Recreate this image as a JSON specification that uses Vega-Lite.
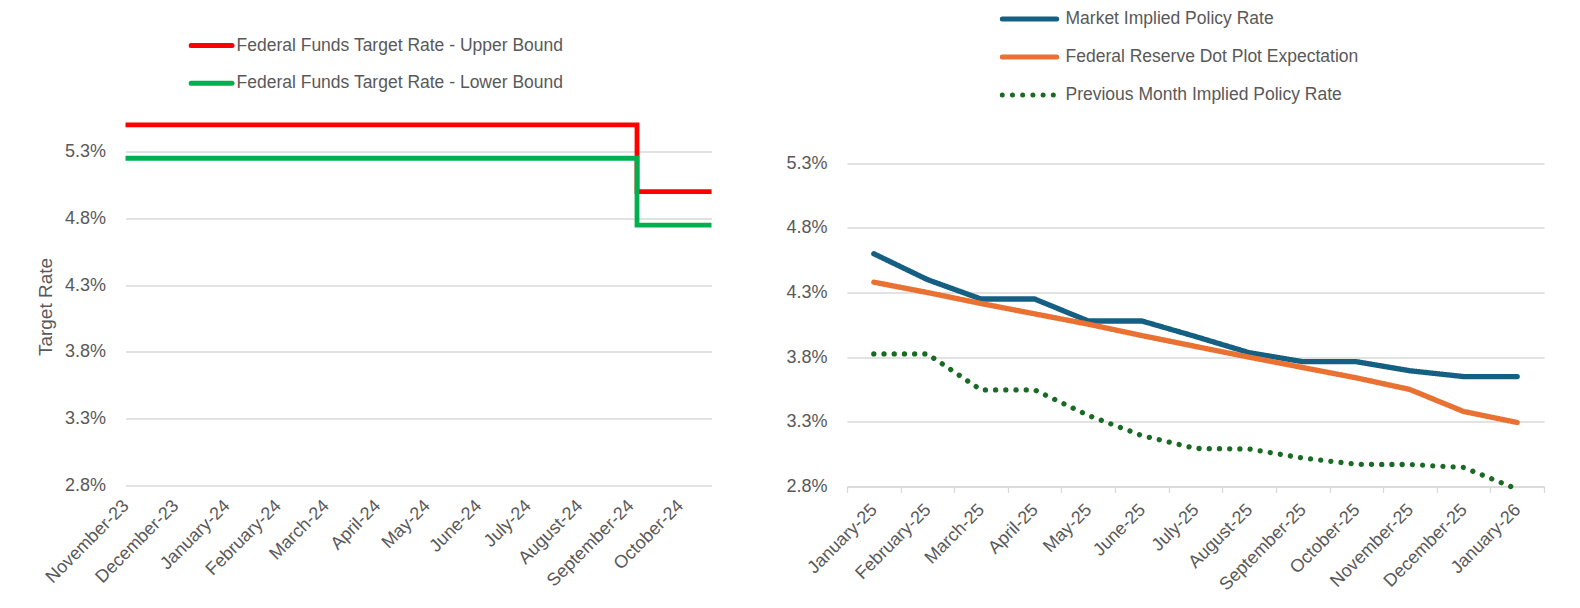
{
  "$schema": "https://vega.github.io/schema/vega-lite/v6.json",
  "background": "white",
  "padding": {"left": 35.5, "top": 9.5, "right": 10, "bottom": 5},
  "bounds": "flush",
  "spacing": 135.5,
  "config": {
    "view": {"stroke": null},
    "font": "Liberation Sans",
    "axis": {
      "labelFont": "Liberation Sans",
      "labelFontSize": 18,
      "labelColor": "#595959",
      "titleFont": "Liberation Sans",
      "titleColor": "#595959",
      "titleFontWeight": "normal",
      "gridColor": "#D9D9D9",
      "gridWidth": 1.3,
      "domainColor": "#D9D9D9",
      "domainWidth": 1.3,
      "tickColor": "#D9D9D9",
      "tickWidth": 1.3
    },
    "legend": {
      "labelFont": "Liberation Sans",
      "labelFontSize": 17.5,
      "labelColor": "#595959",
      "labelLimit": 600
    }
  },
  "resolve": {
    "scale": {"color": "independent", "strokeDash": "independent"},
    "legend": {"color": "independent", "strokeDash": "independent"}
  },
  "hconcat": [
    {
      "width": 586,
      "height": 374,
      "data": {
        "values": [
          {"date": "2023-11-01", "series": "Federal Funds Target Rate - Upper Bound", "rate": 5.5},
          {"date": "2024-09-05", "series": "Federal Funds Target Rate - Upper Bound", "rate": 5.0},
          {"date": "2024-10-20", "series": "Federal Funds Target Rate - Upper Bound", "rate": 5.0},
          {"date": "2023-11-01", "series": "Federal Funds Target Rate - Lower Bound", "rate": 5.25},
          {"date": "2024-09-05", "series": "Federal Funds Target Rate - Lower Bound", "rate": 4.75},
          {"date": "2024-10-20", "series": "Federal Funds Target Rate - Lower Bound", "rate": 4.75}
        ]
      },
      "mark": {"type": "line", "interpolate": "step-after", "strokeWidth": 4.8, "strokeCap": "butt"},
      "encoding": {
        "x": {
          "field": "date",
          "type": "temporal",
          "scale": {
            "type": "utc",
            "domain": [
              {"year": 2023, "month": 11, "date": 1, "utc": true},
              {"year": 2024, "month": 10, "date": 20, "utc": true}
            ]
          },
          "axis": {
            "title": null,
            "grid": false,
            "ticks": false,
            "tickSize": 0,
            "domain": false,
            "format": "%B-%y",
            "labelAngle": -45,
            "labelAlign": "right",
            "labelBaseline": "top",
            "labelPadding": 11,
            "labelOffset": -6,
            "labelOverlap": false,
            "values": [
              {"year": 2023, "month": 11, "date": 1, "utc": true},
              {"year": 2023, "month": 12, "date": 1, "utc": true},
              {"year": 2024, "month": 1, "date": 1, "utc": true},
              {"year": 2024, "month": 2, "date": 1, "utc": true},
              {"year": 2024, "month": 3, "date": 1, "utc": true},
              {"year": 2024, "month": 4, "date": 1, "utc": true},
              {"year": 2024, "month": 5, "date": 1, "utc": true},
              {"year": 2024, "month": 6, "date": 1, "utc": true},
              {"year": 2024, "month": 7, "date": 1, "utc": true},
              {"year": 2024, "month": 8, "date": 1, "utc": true},
              {"year": 2024, "month": 9, "date": 1, "utc": true},
              {"year": 2024, "month": 10, "date": 1, "utc": true}
            ]
          }
        },
        "y": {
          "field": "rate",
          "type": "quantitative",
          "scale": {"domain": [2.8, 5.6], "nice": false, "zero": false},
          "axis": {
            "title": "Target Rate",
            "titleFontSize": 19,
            "titlePadding": 9,
            "titleY": 195,
            "values": [2.8, 3.3, 3.8, 4.3, 4.8, 5.3],
            "labelExpr": "format(datum.value, '.1f') + '%'",
            "domain": false,
            "ticks": false,
            "labelPadding": 20
          }
        },
        "color": {
          "field": "series",
          "type": "nominal",
          "scale": {
            "domain": ["Federal Funds Target Rate - Upper Bound", "Federal Funds Target Rate - Lower Bound"],
            "range": ["#FF0000", "#00B050"]
          },
          "legend": {
            "orient": "none",
            "direction": "vertical",
            "legendX": 63,
            "legendY": -75,
            "title": null,
            "padding": 0,
            "symbolType": "stroke",
            "symbolSize": 1681,
            "symbolStrokeWidth": 5,
            "clipHeight": 18,
            "labelOffset": 2,
            "rowPadding": 19.7,
            "encode": {"symbols": {"update": {"strokeCap": {"value": "round"}}}}
          }
        }
      }
    },
    {
      "width": 697,
      "height": 375,
      "data": {
        "values": [
          {"month": "January-25", "series": "Market Implied Policy Rate", "rate": 4.60},
          {"month": "February-25", "series": "Market Implied Policy Rate", "rate": 4.40},
          {"month": "March-25", "series": "Market Implied Policy Rate", "rate": 4.25},
          {"month": "April-25", "series": "Market Implied Policy Rate", "rate": 4.25},
          {"month": "May-25", "series": "Market Implied Policy Rate", "rate": 4.08},
          {"month": "June-25", "series": "Market Implied Policy Rate", "rate": 4.08},
          {"month": "July-25", "series": "Market Implied Policy Rate", "rate": 3.96},
          {"month": "August-25", "series": "Market Implied Policy Rate", "rate": 3.835},
          {"month": "September-25", "series": "Market Implied Policy Rate", "rate": 3.765},
          {"month": "October-25", "series": "Market Implied Policy Rate", "rate": 3.765},
          {"month": "November-25", "series": "Market Implied Policy Rate", "rate": 3.695},
          {"month": "December-25", "series": "Market Implied Policy Rate", "rate": 3.65},
          {"month": "January-26", "series": "Market Implied Policy Rate", "rate": 3.65},
          {"month": "January-25", "series": "Federal Reserve Dot Plot Expectation", "rate": 4.38},
          {"month": "February-25", "series": "Federal Reserve Dot Plot Expectation", "rate": 4.30},
          {"month": "March-25", "series": "Federal Reserve Dot Plot Expectation", "rate": 4.215},
          {"month": "April-25", "series": "Federal Reserve Dot Plot Expectation", "rate": 4.135},
          {"month": "May-25", "series": "Federal Reserve Dot Plot Expectation", "rate": 4.055},
          {"month": "June-25", "series": "Federal Reserve Dot Plot Expectation", "rate": 3.967},
          {"month": "July-25", "series": "Federal Reserve Dot Plot Expectation", "rate": 3.883},
          {"month": "August-25", "series": "Federal Reserve Dot Plot Expectation", "rate": 3.80},
          {"month": "September-25", "series": "Federal Reserve Dot Plot Expectation", "rate": 3.72},
          {"month": "October-25", "series": "Federal Reserve Dot Plot Expectation", "rate": 3.64},
          {"month": "November-25", "series": "Federal Reserve Dot Plot Expectation", "rate": 3.55},
          {"month": "December-25", "series": "Federal Reserve Dot Plot Expectation", "rate": 3.38},
          {"month": "January-26", "series": "Federal Reserve Dot Plot Expectation", "rate": 3.295},
          {"month": "January-25", "series": "Previous Month Implied Policy Rate", "rate": 3.825},
          {"month": "February-25", "series": "Previous Month Implied Policy Rate", "rate": 3.825},
          {"month": "March-25", "series": "Previous Month Implied Policy Rate", "rate": 3.547},
          {"month": "April-25", "series": "Previous Month Implied Policy Rate", "rate": 3.547},
          {"month": "May-25", "series": "Previous Month Implied Policy Rate", "rate": 3.35},
          {"month": "June-25", "series": "Previous Month Implied Policy Rate", "rate": 3.194},
          {"month": "July-25", "series": "Previous Month Implied Policy Rate", "rate": 3.094},
          {"month": "August-25", "series": "Previous Month Implied Policy Rate", "rate": 3.09},
          {"month": "September-25", "series": "Previous Month Implied Policy Rate", "rate": 3.02},
          {"month": "October-25", "series": "Previous Month Implied Policy Rate", "rate": 2.972},
          {"month": "November-25", "series": "Previous Month Implied Policy Rate", "rate": 2.97},
          {"month": "December-25", "series": "Previous Month Implied Policy Rate", "rate": 2.947},
          {"month": "January-26", "series": "Previous Month Implied Policy Rate", "rate": 2.78}
        ]
      },
      "mark": {"type": "line", "strokeWidth": 5.3, "strokeCap": "round", "strokeJoin": "round"},
      "encoding": {
        "x": {
          "field": "month",
          "type": "ordinal",
          "sort": null,
          "bandPosition": 0.5,
          "scale": {"type": "band", "paddingInner": 0, "paddingOuter": 0},
          "axis": {
            "title": null,
            "grid": false,
            "domain": true,
            "ticks": true,
            "tickBand": "extent",
            "tickSize": 6,
            "labelAngle": -45,
            "labelAlign": "right",
            "labelBaseline": "top",
            "labelPadding": 8,
            "labelOffset": -6
          }
        },
        "y": {
          "field": "rate",
          "type": "quantitative",
          "scale": {"domain": [2.8, 5.7], "nice": false, "zero": false},
          "axis": {
            "title": null,
            "values": [2.8, 3.3, 3.8, 4.3, 4.8, 5.3],
            "labelExpr": "format(datum.value, '.1f') + '%'",
            "domain": false,
            "ticks": false,
            "labelPadding": 20
          }
        },
        "color": {
          "field": "series",
          "type": "nominal",
          "scale": {
            "domain": ["Market Implied Policy Rate", "Federal Reserve Dot Plot Expectation", "Previous Month Implied Policy Rate"],
            "range": ["#156082", "#E97132", "#196B24"]
          },
          "legend": {
            "orient": "none",
            "direction": "vertical",
            "legendX": 152.5,
            "legendY": -101.5,
            "title": null,
            "padding": 0,
            "symbolType": "stroke",
            "symbolSize": 2970,
            "symbolStrokeWidth": 5,
            "clipHeight": 18,
            "labelOffset": 6,
            "rowPadding": 20,
            "encode": {"symbols": {"update": {"strokeCap": {"value": "round"}}}}
          }
        },
        "strokeDash": {
          "field": "series",
          "type": "nominal",
          "scale": {
            "domain": ["Market Implied Policy Rate", "Federal Reserve Dot Plot Expectation", "Previous Month Implied Policy Rate"],
            "range": [[1, 0], [1, 0], [0.01, 10.2]]
          },
          "legend": {
            "orient": "none",
            "direction": "vertical",
            "legendX": 152.5,
            "legendY": -101.5,
            "title": null,
            "padding": 0,
            "symbolType": "stroke",
            "symbolSize": 2970,
            "symbolStrokeWidth": 5,
            "clipHeight": 18,
            "labelOffset": 6,
            "rowPadding": 20,
            "encode": {"symbols": {"update": {"strokeCap": {"value": "round"}}}}
          }
        }
      }
    }
  ]
}
